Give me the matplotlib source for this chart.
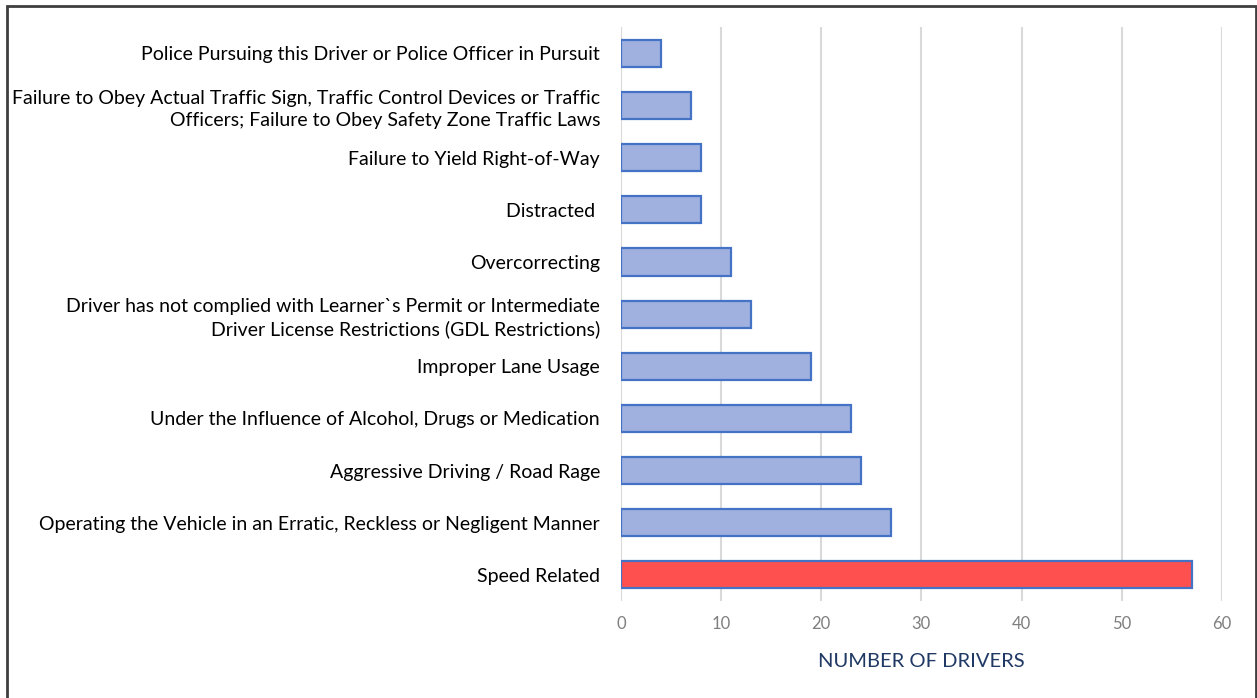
import matplotlib.pyplot as plt
import matplotlib.patches as mpatches

# Contributing factors, listed bottom to top as drawn on the y axis
causes = [
    "Speed Related",
    "Operating the Vehicle in an Erratic, Reckless or Negligent Manner",
    "Aggressive Driving / Road Rage",
    "Under the Influence of Alcohol, Drugs or Medication",
    "Improper Lane Usage",
    "Driver has not complied with Learner`s Permit or Intermediate\nDriver License Restrictions (GDL Restrictions)",
    "Overcorrecting",
    "Distracted ",
    "Failure to Yield Right-of-Way",
    "Failure to Obey Actual Traffic Sign, Traffic Control Devices or Traffic\nOfficers; Failure to Obey Safety Zone Traffic Laws",
    "Police Pursuing this Driver or Police Officer in Pursuit",
]
drivers = [57, 27, 24, 23, 19, 13, 11, 8, 8, 7, 4]
x_ticks = [0, 10, 20, 30, 40, 50, 60]

plt.rcParams.update({
    "font.family": ["Lato", "DejaVu Sans"],
})

BLUE_FILL = "#A0B1DF"
BLUE_EDGE = "#4472C4"
RED_FILL = "#FF5050"

fig = plt.figure(figsize=(12.57, 6.98), dpi=100)
ax = fig.add_axes([0.494, 0.139, 0.478, 0.822])

colors = [RED_FILL] + [BLUE_FILL] * (len(drivers) - 1)
ax.barh(range(len(drivers)), drivers, height=0.52, color=colors,
        edgecolor=BLUE_EDGE, linewidth=1.6, zorder=3)

ax.set_xlim(0, 60)
ax.set_ylim(-0.5, len(drivers) - 0.5)
ax.set_xticks(x_ticks)
ax.set_yticks(range(len(causes)))
ax.set_yticklabels(causes, fontsize=14, color="black", linespacing=1.35)
ax.tick_params(axis="x", length=0, labelsize=12, labelcolor="#7F7F7F", pad=11)
ax.tick_params(axis="y", length=0, pad=15)
for lbl in ax.get_yticklabels():
    lbl.set_horizontalalignment("right")
    lbl.set_multialignment("right")

ax.grid(axis="x", color="#D9D9D9", linewidth=1.5, zorder=0)
ax.set_axisbelow(True)
for s in ax.spines.values():
    s.set_visible(False)

ax.set_xlabel("NUMBER OF DRIVERS", fontsize=14.5, color="#1F3864", labelpad=15)

# outer frame around the chart area
fig.patches.append(mpatches.Rectangle(
    (7 / 1257, -0.01), 1249 / 1257, 1 - 6 / 698 + 0.01,
    transform=fig.transFigure, fill=False, edgecolor="#3F3F3F", linewidth=2))

fig.savefig("out.png", dpi=100)
